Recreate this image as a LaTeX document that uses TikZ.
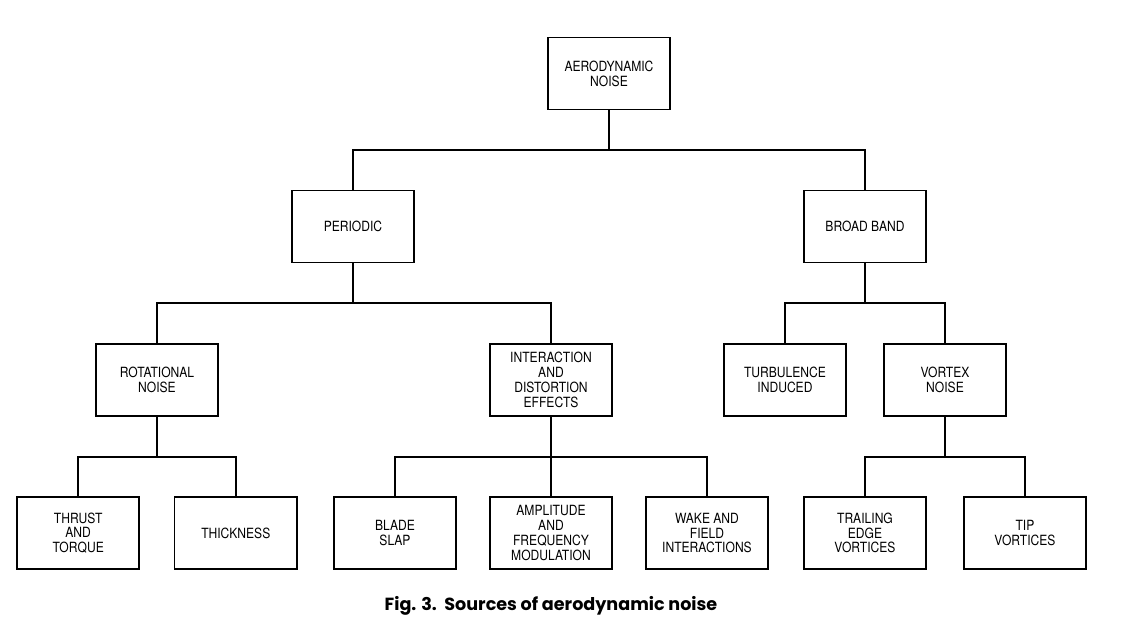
\documentclass[tikz,border=0pt]{standalone}
\usepackage{fontspec}
\setsansfont{TeX Gyre Heros}[FakeStretch=0.86]
\newfontfamily\capfont{Poppins}
\usetikzlibrary{positioning}
\tikzstyle{block} = [rectangle, draw=black, line width=1pt, minimum width=3.05cm, minimum height=1.8cm, text centered, align=center, inner sep=2pt, font=\sffamily\fontsize{10}{10.5}\selectfont]
\tikzstyle{link} = [line width=1.5pt]
\begin{document}
\begin{tikzpicture}[node distance=3.83cm]
        \useasboundingbox (-15.225,1.8375) rectangle (13.1,-14.2375);
        \node (aero) [block] {AERODYNAMIC\\NOISE};
        \node (periodic) [block, below of=aero, xshift=-6.4cm] {PERIODIC};
        \node (broad) [block, below of=aero, xshift=6.4cm] {BROAD BAND};
        \node (rotational) [block, below of=periodic, xshift=-4.9cm] {ROTATIONAL\\NOISE};
        \node (interaction) [block, below of=periodic, xshift=4.95cm] {INTERACTION\\AND\\DISTORTION\\EFFECTS};
        \node (turbulence) [block, below of=broad, xshift=-2cm] {TURBULENCE\\INDUCED};
        \node (vortex) [block, below of=broad, xshift=2cm] {VORTEX\\NOISE};
        \node (thrust) [block, below of=rotational, xshift=-1.97cm] {THRUST\\AND\\TORQUE};
        \node (thickness) [block, below of=rotational, xshift=1.97cm] {THICKNESS};
        \node (blade) [block, below of=interaction, xshift=-3.9cm] {BLADE\\SLAP};
        \node (amplitude) [block, below of=interaction] {AMPLITUDE\\AND\\FREQUENCY\\MODULATION};
        \node (wake) [block, below of=interaction, xshift=3.9cm] {WAKE AND\\FIELD\\INTERACTIONS};
        \node (trailing) [block, below of=vortex, xshift=-2cm] {TRAILING\\EDGE\\VORTICES};
        \node (tip) [block, below of=vortex, xshift=2cm] {TIP\\VORTICES};
        \node (caption) [below of=amplitude, node distance=1.83cm, font=\capfont\bfseries\fontsize{12.5}{14}\selectfont] {Fig. 3.\ \ Sources of aerodynamic noise};

        \draw [link] (aero.south) -- ++(0,-1) -| (periodic.north);
        \draw [link] (aero.south) -- ++(0,-1) -| (broad.north);
        \draw [link] (periodic.south) -- ++(0,-1) -| (rotational.north);
        \draw [link] (periodic.south) -- ++(0,-1) -| (interaction.north);
        \draw [link] (broad.south) -- ++(0,-1) -| (turbulence.north);
        \draw [link] (broad.south) -- ++(0,-1) -| (vortex.north);
        \draw [link] (rotational.south) -- ++(0,-1) -| (thrust.north);
        \draw [link] (rotational.south) -- ++(0,-1) -| (thickness.north);
        \draw [link] (interaction.south) -- ++(0,-1) -| (blade.north);
        \draw [link] (interaction.south) -- (amplitude.north);
        \draw [link] (interaction.south) -- ++(0,-1) -| (wake.north);
        \draw [link] (vortex.south) -- ++(0,-1) -| (trailing.north);
        \draw [link] (vortex.south) -- ++(0,-1) -| (tip.north);
    \end{tikzpicture}
\end{document}
